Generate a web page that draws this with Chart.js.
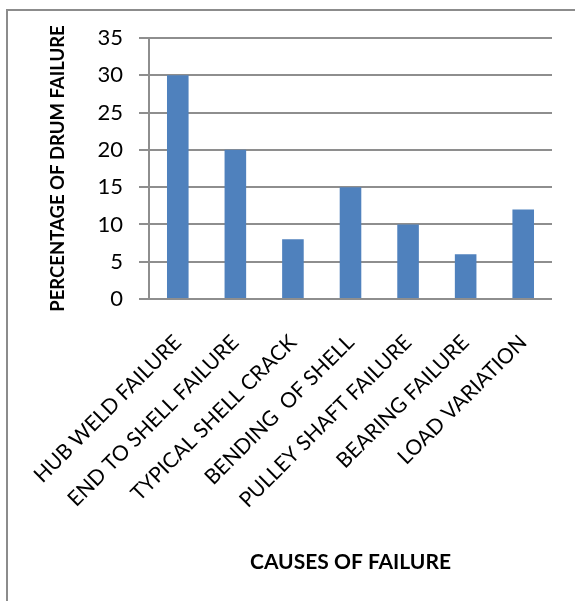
<!DOCTYPE html>
<html>
<head>
<meta charset="utf-8">
<title>Causes of Drum Failure</title>
<script src="https://cdn.jsdelivr.net/npm/chart.js@4/dist/chart.umd.min.js"></script>
<style>
  html, body { margin: 0; padding: 0; background: #ffffff; }
  #wrap { width: 575px; height: 601px; position: relative; }
</style>
</head>
<body>
<div id="wrap"><canvas id="chart" width="575" height="601"></canvas></div>
<script>
// Failure causes and their share of drum failures (%)
const categories = [
  'HUB WELD FAILURE',
  'END TO SHELL FAILURE',
  'TYPICAL SHELL CRACK',
  'BENDING  OF SHELL',
  'PULLEY SHAFT FAILURE',
  'BEARING FAILURE',
  'LOAD VARIATION'
];
const failurePercent = [30, 20, 8, 15, 10, 6, 12];
const yTicks = [0, 5, 10, 15, 20, 25, 30, 35];

const xTitle = 'CAUSES OF FAILURE';
const yTitle = 'PERCENTAGE OF DRUM FAILURE';

const gridGray = '#8e8e8e';
const barBlue = '#4f81bd';

// Thin grey frame around the whole chart
const framePlugin = {
  id: 'frame',
  beforeDraw(chart) {
    const ctx = chart.ctx;
    ctx.save();
    ctx.fillStyle = '#ffffff';
    ctx.fillRect(0, 0, chart.width, chart.height);
    ctx.strokeStyle = '#8c8c8c';
    ctx.lineWidth = 2;
    ctx.strokeRect(7, 10, 700, 700);
    ctx.restore();
  }
};

new Chart(document.getElementById('chart'), {
  type: 'bar',
  data: {
    labels: categories,
    datasets: [{
      data: failurePercent,
      backgroundColor: barBlue,
      borderWidth: 0,
      barPercentage: 0.375,
      categoryPercentage: 1.0
    }]
  },
  options: {
    responsive: false,
    animation: false,
    events: [],
    layout: { padding: { left: 8, top: 38, right: 23, bottom: 0 } },
    plugins: {
      legend: { display: false },
      tooltip: { enabled: false },
      title: { display: false }
    },
    scales: {
      x: {
        grid: { display: false, drawTicks: false },
        border: { display: false },
        ticks: {
          color: '#000000',
          font: { family: 'Lato', size: 21 },
          minRotation: 45,
          maxRotation: 45,
          autoSkip: false,
          padding: 31
        },
        title: {
          display: true,
          text: xTitle,
          color: '#000000',
          font: { family: 'Lato', size: 21, weight: 'bold' },
          padding: { top: 0, bottom: 26 }
        },
        afterFit(scale) {
          // rotated labels may hang past the plot edge; keep the plot width fixed
          scale.height = 302;
          scale.paddingLeft = 0;
          scale.paddingRight = 0;
        }
      },
      y: {
        min: 0,
        max: 35,
        afterBuildTicks(scale) {
          scale.ticks = yTicks.map(v => ({ value: v }));
        },
        grid: {
          color: gridGray,
          lineWidth: 2,
          drawTicks: true,
          tickLength: 10,
          tickColor: gridGray
        },
        border: { display: true, color: gridGray, width: 2 },
        ticks: {
          color: '#000000',
          font: { family: 'Lato', size: 22 },
          padding: 16
        },
        title: {
          display: true,
          text: yTitle,
          color: '#000000',
          font: { family: 'Lato', size: 18.5, weight: 'bold' },
          padding: { top: 39, bottom: 0 }
        },
        afterFit(scale) { scale.width = 141; }
      }
    }
  },
  plugins: [framePlugin]
});
</script>
</body>
</html>
